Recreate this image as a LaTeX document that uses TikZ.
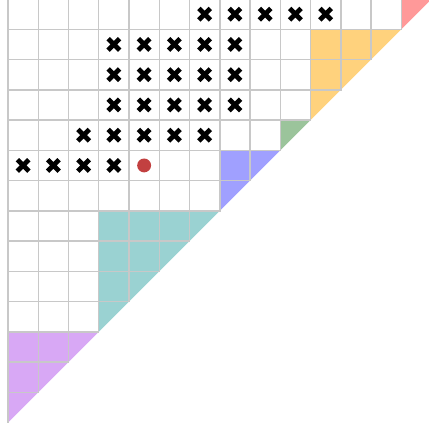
\documentclass[tikz,border=0pt]{standalone}
\definecolor{gridgray}{RGB}{200,200,200}
\definecolor{blockred}{RGB}{255,153,153}
\definecolor{blockorange}{RGB}{255,210,125}
\definecolor{blockgreen}{RGB}{155,196,155}
\definecolor{blockblue}{RGB}{160,160,255}
\definecolor{blockteal}{RGB}{154,210,210}
\definecolor{blocklilac}{RGB}{216,168,245}
\definecolor{dotred}{RGB}{194,64,64}
\tikzset{
  gridline/.style={draw=gridgray, line width=1.1pt},
  xmark/.pic={\draw[line width=3.6pt] (-0.19,-0.19) -- (0.19,0.19) (-0.19,0.19) -- (0.19,-0.19);},
  dotmark/.style={fill=dotred}
}
\begin{document}
\begin{tikzpicture}[x=0.8cm, y=0.8cm]
  \useasboundingbox (-0.2645,-0.278) rectangle (13.884,13.969);

  \foreach \a/\s/\c in {13/1/blockred, 10/3/blockorange, 9/1/blockgreen, 7/2/blockblue, 3/4/blockteal, 0/3/blocklilac}
    \fill[\c] (\a,\a) -- (\a,\a+\s) -- (\a+\s,\a+\s) -- cycle;

  \draw[gridline] (0,0) -- (0,14);
  \foreach \k in {1,...,14}
    \draw[gridline] (0,\k) -- (\k,\k) -- (\k,14);

  \foreach \row/\first/\last in {0/6/10, 1/3/7, 2/3/7, 3/3/7, 4/2/6, 5/0/3}
    \foreach \col in {\first,...,\last}
      \pic at (\col+0.5, 13.5-\row) {xmark};

  \fill[dotmark] (4.5,8.5) circle (0.23);
\end{tikzpicture}
\end{document}
